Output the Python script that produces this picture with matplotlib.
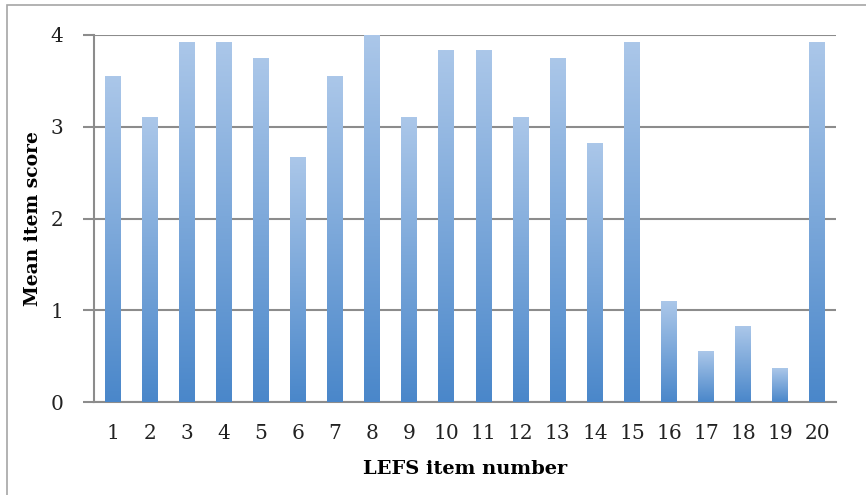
import matplotlib
matplotlib.use("Agg")
import matplotlib.pyplot as plt
import numpy as np
from matplotlib.colors import LinearSegmentedColormap
from matplotlib.patches import Rectangle

# values
items = [str(i) for i in range(1, 21)]
scores = [3.55, 3.10, 3.92, 3.92, 3.74, 2.66, 3.55, 4.00, 3.10, 3.83,
          3.83, 3.10, 3.74, 2.82, 3.92, 1.09, 0.55, 0.82, 0.37, 3.92]
yticks = [0, 1, 2, 3, 4]

plt.rcParams['font.family'] = ['DejaVu Serif']

fig = plt.figure(figsize=(8.66, 4.95), dpi=100)
ax = fig.add_axes([94 / 866, 1 - 402 / 495, 742 / 866, 367 / 495])

# outer frame
fig.patches.append(Rectangle((7 / 866, -0.1), 1.1, 1 - 5 / 495 + 0.1,
                             transform=fig.transFigure, fill=False,
                             edgecolor='#a6a6a6', lw=1.2))

cmap = LinearSegmentedColormap.from_list('bar', ['#4a87ca', '#abc7e9'])
grad = np.linspace(0, 1, 256).reshape(-1, 1)
w = 0.43
x = np.arange(len(items))
for xi, v in zip(x, scores):
    ax.imshow(grad, cmap=cmap, origin='lower', aspect='auto',
              extent=(xi - w / 2, xi + w / 2, 0, v), zorder=3)

ax.set_xlim(-0.5, len(items) - 0.5)
ax.set_ylim(0, 4)
ax.set_xticks(x)
ax.set_xticklabels(items)
ax.set_yticks(yticks)
ax.yaxis.grid(True, color='#8c8c8c', lw=1.5, zorder=0)
ax.set_axisbelow(True)

for s in ['top', 'right']:
    ax.spines[s].set_visible(False)
for s in ['left', 'bottom']:
    ax.spines[s].set_color('#8c8c8c')
    ax.spines[s].set_linewidth(1.5)

ax.tick_params(axis='x', length=0, pad=16, labelsize=14.5, colors='#222222')
ax.tick_params(axis='y', length=8, width=1.5, color='#8c8c8c', pad=14,
               labelsize=14.5, labelcolor='#222222')

ax.set_xlabel('LEFS item number', fontsize=14, fontweight='bold', labelpad=12)
ax.set_ylabel('Mean item score', fontsize=13.5, fontweight='bold', labelpad=6)

fig.savefig('out.png', dpi=100)
